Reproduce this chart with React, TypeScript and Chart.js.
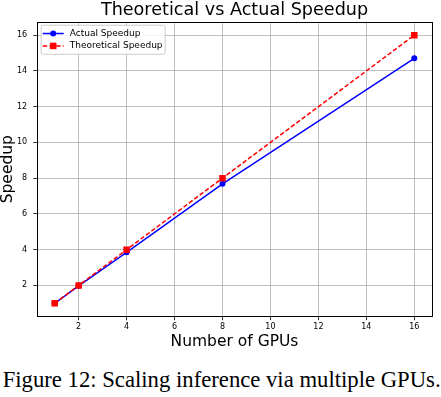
import React, { useEffect, useRef } from "react";
import { Chart, registerables } from "chart.js";

Chart.register(...registerables);

const gpuCounts = [1, 2, 4, 8, 16];
const actualSpeedup = [1.0, 1.98, 3.85, 7.68, 14.7];
const theoreticalSpeedup = [1, 2, 4, 8, 16];
const xTickValues = [2, 4, 6, 8, 10, 12, 14, 16];
const yTickValues = [2, 4, 6, 8, 10, 12, 14, 16];
const chartTitle = "Theoretical vs Actual Speedup";
const xLabel = "Number of GPUs";
const yLabel = "Speedup";
const seriesNames = ["Actual Speedup", "Theoretical Speedup"];
const caption = "Figure 12: Scaling inference via multiple GPUs.";

const FONT = "'DejaVu Sans', sans-serif";

const framePlugin = {
  id: "frameAndLegend",
  afterDraw(chart: any) {
    const { ctx, chartArea } = chart;
    ctx.save();
    ctx.strokeStyle = "#000";
    ctx.lineWidth = 1;
    ctx.strokeRect(
      Math.round(chartArea.left) + 0.5,
      Math.round(chartArea.top) + 0.5,
      Math.round(chartArea.right - chartArea.left) - 1,
      Math.round(chartArea.bottom - chartArea.top) - 1
    );

    // legend box
    const lx = chartArea.left + 4.5;
    const ly = chartArea.top + 3.5;
    const lw = 124;
    const lh = 29;
    ctx.beginPath();
    if ((ctx as any).roundRect) (ctx as any).roundRect(lx, ly, lw, lh, 2);
    else ctx.rect(lx, ly, lw, lh);
    ctx.fillStyle = "rgba(255,255,255,0.85)";
    ctx.fill();
    ctx.strokeStyle = "#cccccc";
    ctx.lineWidth = 1;
    ctx.stroke();

    const items = chart.data.datasets.map((ds: any) => ds);
    items.forEach((ds: any, i: number) => {
      const y = ly + 8.3 + i * 12.4;
      const x0 = lx + 1.5;
      const x1 = lx + 22.5;
      const xm = (x0 + x1) / 2;
      ctx.save();
      ctx.strokeStyle = ds.borderColor;
      ctx.lineWidth = ds.borderWidth;
      ctx.setLineDash(ds.borderDash || []);
      ctx.beginPath();
      ctx.moveTo(x0, y);
      ctx.lineTo(x1, y);
      ctx.stroke();
      ctx.setLineDash([]);
      ctx.fillStyle = ds.pointBackgroundColor;
      if (ds.pointStyle === "rect") {
        const s = ds.pointRadius * Math.SQRT1_2;
        ctx.fillRect(xm - s, y - s, 2 * s, 2 * s);
      } else {
        ctx.beginPath();
        ctx.arc(xm, y, ds.pointRadius, 0, Math.PI * 2);
        ctx.fill();
      }
      ctx.restore();
      ctx.fillStyle = "#000";
      ctx.font = `9px ${FONT}`;
      ctx.textBaseline = "middle";
      ctx.textAlign = "left";
      ctx.fillText(ds.label, lx + 28.6, y);
    });
    ctx.restore();
  },
};

export default function App() {
  const ref = useRef<HTMLCanvasElement | null>(null);

  useEffect(() => {
    if (!ref.current) return;
    const chart = new Chart(ref.current, {
      type: "line",
      data: {
        datasets: [
          {
            label: seriesNames[0],
            data: gpuCounts.map((g, i) => ({ x: g, y: actualSpeedup[i] })),
            borderColor: "#0000ff",
            backgroundColor: "#0000ff",
            pointBackgroundColor: "#0000ff",
            pointBorderColor: "#0000ff",
            pointStyle: "circle",
            pointRadius: 3,
            pointBorderWidth: 0,
            borderWidth: 1.5,
            tension: 0,
            order: 1,
          },
          {
            label: seriesNames[1],
            data: gpuCounts.map((g, i) => ({ x: g, y: theoreticalSpeedup[i] })),
            borderColor: "#ff0000",
            backgroundColor: "#ff0000",
            pointBackgroundColor: "#ff0000",
            pointBorderColor: "#ff0000",
            pointStyle: "rect",
            pointRadius: 4.6,
            pointBorderWidth: 0,
            borderWidth: 1.5,
            borderDash: [4.5, 2.2],
            tension: 0,
            order: 0,
          },
        ] as any,
      },
      options: {
        animation: false,
        responsive: false,
        devicePixelRatio: 1,
        layout: { padding: { left: 0, right: 8.7, top: 0, bottom: 0 } },
        plugins: {
          legend: { display: false },
          tooltip: { enabled: false },
          title: {
            display: true,
            text: chartTitle,
            fullSize: false,
            color: "#000",
            font: { family: FONT, size: 17.6, weight: "normal", lineHeight: 1.2 },
            padding: { top: 0.3, bottom: 0.3 },
          },
        },
        scales: {
          x: {
            type: "linear",
            min: 0.25,
            max: 16.75,
            afterBuildTicks: (s: any) => {
              s.ticks = xTickValues.map((v) => ({ value: v }));
            },
            afterFit: (s: any) => {
              s.height = 33.3;
            },
            ticks: {
              autoSkip: false,
              maxRotation: 0,
              padding: 2,
              color: "#000",
              font: { family: FONT, size: 8 },
            },
            grid: {
              color: "#b0b0b0",
              lineWidth: 0.8,
              drawTicks: true,
              tickLength: 3.5,
              tickColor: "#000",
              tickWidth: 0.8,
            },
            border: { display: false },
            title: {
              display: true,
              text: xLabel,
              color: "#000",
              font: { family: FONT, size: 15.5, lineHeight: 1 },
              padding: 0,
            },
          },
          y: {
            type: "linear",
            min: 0.25,
            max: 16.75,
            afterBuildTicks: (s: any) => {
              s.ticks = yTickValues.map((v) => ({ value: v }));
            },
            afterFit: (s: any) => {
              s.width = 36.7;
            },
            ticks: {
              padding: 6,
              color: "#000",
              font: { family: FONT, size: 8 },
            },
            grid: {
              color: "#b0b0b0",
              lineWidth: 0.8,
              drawTicks: true,
              tickLength: 3.5,
              tickColor: "#000",
              tickWidth: 0.8,
            },
            border: { display: false },
            title: {
              display: true,
              text: yLabel,
              color: "#000",
              font: { family: FONT, size: 15.5, lineHeight: 1 },
              padding: { top: 0.3, bottom: 0 },
            },
          },
        },
      } as any,
      plugins: [framePlugin],
    });
    return () => chart.destroy();
  }, []);

  return (
    <div style={{ position: "absolute", left: 0, top: 0, width: 441, height: 397, background: "#fff" }}>
      <canvas ref={ref} width={441} height={350} style={{ display: "block", width: 441, height: 350 }} />
      <div
        style={{
          position: "absolute",
          left: 2.7,
          top: 368.7,
          fontFamily: "'Liberation Serif', 'Times New Roman', serif",
          fontSize: 22.7,
          lineHeight: "22.7px",
          whiteSpace: "nowrap",
          color: "#000",
        }}
      >
        {caption}
      </div>
    </div>
  );
}
